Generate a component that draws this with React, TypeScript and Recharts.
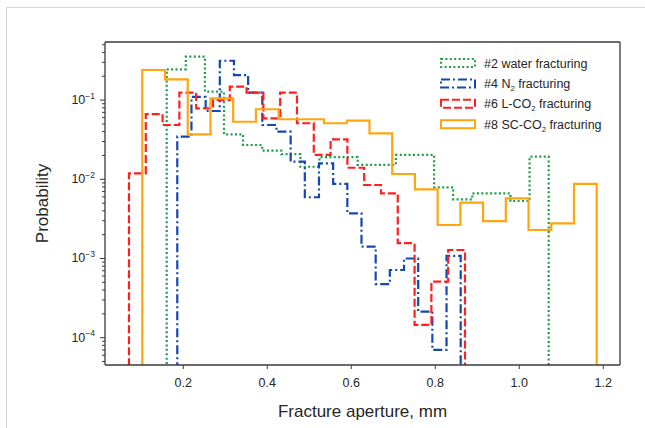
import React from 'react';
import { LineChart, Line, XAxis, YAxis, Legend, ReferenceLine } from 'recharts';

// ---------- data ----------
const SERIES_NAMES = ['#2 water fracturing', '#4 N₂ fracturing', '#6 L-CO₂ fracturing', '#8 SC-CO₂ fracturing'];

// histogram ranges (first edge, last edge), 20 equal bins each
const WATER_RANGE = [0.1605, 1.07];
const N2_RANGE = [0.1857, 0.8605];
const LCO2_RANGE = [0.0707, 0.8707];
const SCCO2_RANGE = [0.1024, 1.1843];

const WATER_PROB = [0.245, 0.353, 0.128, 0.037, 0.0271, 0.023, 0.0208, 0.0144, 0.019, 0.019,
  0.0152, 0.0152, 0.0203, 0.0203, 0.00793, 0.00558, 0.00665, 0.00665, 0.00532, 0.0193];
const N2_PROB = [0.0345, 0.11, 0.0728, 0.314, 0.207, 0.124, 0.0485, 0.0399, 0.0167, 0.00593,
  0.0159, 0.00873, 0.00372, 0.00141, 0.000476, 0.000716, 0.001, 0.000213, 0.00007, 0.00108];
const LCO2_PROB = [0.0119, 0.0667, 0.0485, 0.124, 0.0787, 0.1, 0.148, 0.124, 0.0589, 0.124,
  0.051, 0.0203, 0.032, 0.014, 0.00847, 0.00665, 0.00156, 0.000145, 0.000509, 0.00128];
const SCCO2_PROB = [0.24, 0.183, 0.037, 0.105, 0.0533, 0.0766, 0.0573, 0.0573, 0.051, 0.055,
  0.0381, 0.01167, 0.00748, 0.00265, 0.00507, 0.00297, 0.00575, 0.00229, 0.00278, 0.00873];

const X_TICKS = [0.2, 0.4, 0.6, 0.8, 1.0, 1.2];
const X_DOMAIN = [0.0136, 1.2398];
const Y_DOMAIN = [4.52e-5, 0.5416];

// ---------- helpers ----------
const FLOOR = 1e-7; // below axis, clipped (histogram base)

function stepPoints(range: number[], probs: number[]) {
  const n = probs.length;
  const w = (range[1] - range[0]) / n;
  const pts: { x: number; y: number }[] = [];
  pts.push({ x: range[0], y: FLOOR });
  for (let i = 0; i < n; i++) pts.push({ x: range[0] + i * w, y: probs[i] });
  pts.push({ x: range[1], y: FLOOR });
  return pts;
}

const yTicks: number[] = [];
for (let e = -5; e <= -1; e++) {
  for (let m = 1; m <= 9; m++) {
    const v = m * Math.pow(10, e);
    if (v >= Y_DOMAIN[0] && v <= Y_DOMAIN[1]) yTicks.push(v);
  }
}

const FONT = '"Liberation Sans", Arial, sans-serif';
const TEXT = '#262626';
const SPINE = '#3a3a3a';

const STYLES = [
  { color: '#1e9b45', dash: '2 2.4' },
  { color: '#1447b0', dash: '9 3 2 3' },
  { color: '#ff1f1f', dash: '8 3' },
  { color: '#ffa510', dash: undefined as string | undefined },
];

const SERIES = [
  stepPoints(WATER_RANGE, WATER_PROB),
  stepPoints(N2_RANGE, N2_PROB),
  stepPoints(LCO2_RANGE, LCO2_PROB),
  stepPoints(SCCO2_RANGE, SCCO2_PROB),
];

const YTick = (props: any) => {
  const { x, y, payload } = props;
  const v = payload.value;
  const lg = Math.log10(v);
  const e = Math.round(lg);
  const major = Math.abs(lg - e) < 1e-6;
  return (
    <g>
      <line x1={x - (major ? 5 : 3)} x2={x} y1={y} y2={y} stroke={SPINE} strokeWidth={1} />
      {major && (
        <text x={x - 10} y={y + 4} textAnchor="end" fontFamily={FONT} fontSize={12.5} fill={TEXT}>
          <tspan>10</tspan>
          <tspan fontSize={8.5} dy={-5.5}>{'\u2212' + Math.abs(e)}</tspan>
        </text>
      )}
    </g>
  );
};

function renderSub(label: string, baseSize: number) {
  const parts = label.split('₂');
  const out: React.ReactNode[] = [];
  parts.forEach((p, i) => {
    out.push(<tspan key={'p' + i} dy={i > 0 ? -3 : 0}>{p}</tspan>);
    if (i < parts.length - 1) {
      out.push(<tspan key={'s' + i} fontSize={baseSize * 0.62} dy={3}>2</tspan>);
    }
  });
  return out;
}

const LegendContent = () => (
  <svg width={200} height={90} style={{ overflow: 'visible' }}>
    {SERIES_NAMES.map((name, i) => {
      const cy = 10 + i * 20.4;
      return (
        <g key={name}>
          <rect x={1} y={cy - 4} width={34} height={8} fill="none" stroke={STYLES[i].color}
            strokeWidth={2} strokeDasharray={STYLES[i].dash} />
          <text x={44} y={cy + 4.5} fontFamily={FONT} fontSize={12.5} fill={TEXT}>
            {renderSub(name, 12.5)}
          </text>
        </g>
      );
    })}
  </svg>
);

export default function App() {
  return (
    <div style={{ position: 'fixed', left: 0, top: 0, width: 645, height: 428, background: '#fff' }}>
      <div style={{ position: 'absolute', left: 6, top: 7, right: 0, bottom: 0,
        borderTop: '1px solid #d6d6d6', borderLeft: '1px solid #d6d6d6' }} />
      <div style={{ position: 'absolute', left: 0, top: 0 }}>
        <LineChart width={645} height={428} margin={{ top: 42, right: 25, bottom: 23, left: 45 }}>
          <XAxis type="number" dataKey="x" domain={X_DOMAIN} allowDataOverflow ticks={X_TICKS}
            interval={0} tickFormatter={(v: number) => v.toFixed(1)} height={40}
            tickSize={4} tickMargin={9} stroke={SPINE}
            axisLine={{ stroke: SPINE, strokeWidth: 1.3 }} tickLine={{ stroke: SPINE }}
            tick={{ fontFamily: FONT, fontSize: 12.5, fill: TEXT }}
            label={{
              content: (p: any) => (
                <text x={p.viewBox.x + p.viewBox.width / 2} y={p.viewBox.y + 52} textAnchor="middle"
                  fontFamily={FONT} fontSize={17} fill={TEXT}>Fracture aperture, mm</text>
              ),
            }} />
          <YAxis type="number" scale="log" domain={Y_DOMAIN} allowDataOverflow ticks={yTicks}
            interval={0} width={60} tickSize={0} tickMargin={0} tickLine={false}
            axisLine={{ stroke: SPINE, strokeWidth: 1.3 }} tick={<YTick />}
            label={{
              content: (p: any) => {
                const cx = p.viewBox.x - 3;
                const cy = p.viewBox.y + p.viewBox.height / 2;
                return (
                  <text x={cx} y={cy} textAnchor="middle" dominantBaseline="central"
                    transform={`rotate(-90, ${cx}, ${cy})`} fontFamily={FONT} fontSize={17}
                    fill={TEXT}>Probability</text>
                );
              },
            }} />
          {SERIES.map((pts, i) => (
            <Line key={SERIES_NAMES[i]} name={SERIES_NAMES[i]} data={pts} dataKey="y" type="stepAfter"
              stroke={STYLES[i].color} strokeWidth={2.2} strokeDasharray={STYLES[i].dash}
              dot={false} activeDot={false} isAnimationActive={false} />
          ))}
          <ReferenceLine y={Y_DOMAIN[1]} stroke={SPINE} strokeWidth={1.3} ifOverflow="visible" />
          <ReferenceLine x={X_DOMAIN[1]} stroke={SPINE} strokeWidth={1.3} ifOverflow="visible" />
          <Legend layout="horizontal" verticalAlign="middle" align="center"
            wrapperStyle={{ position: 'absolute', left: 440, top: 53, width: 200, height: 90 }}
            content={<LegendContent />} />
        </LineChart>
      </div>
    </div>
  );
}
